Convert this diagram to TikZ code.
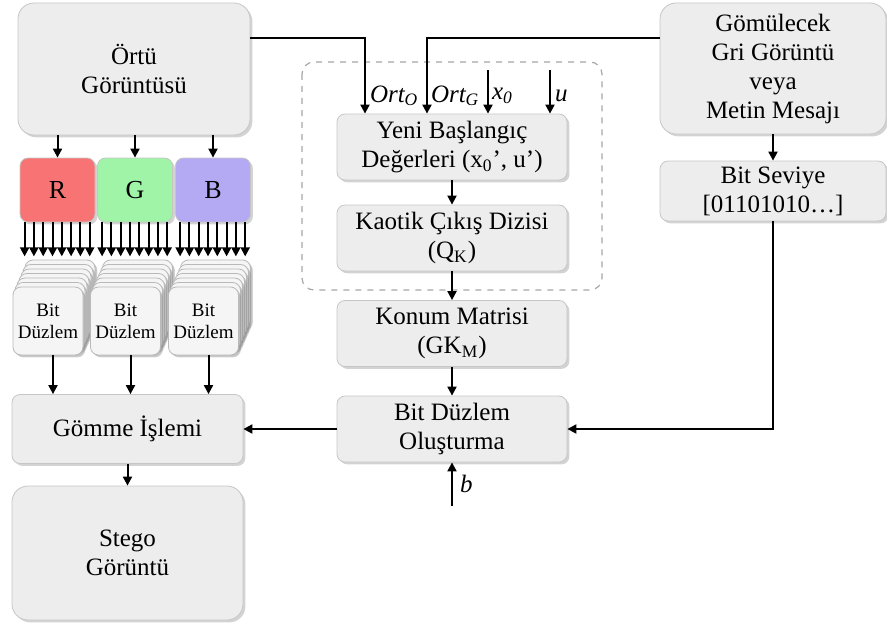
\documentclass[tikz,border=0pt]{standalone}
\usepackage{fontspec}
\setmainfont{Liberation Serif}
\usetikzlibrary{arrows.meta}
\usetikzlibrary{shadows}
\definecolor{rchan}{RGB}{248,116,116}
\definecolor{gchan}{RGB}{160,244,168}
\definecolor{bchan}{RGB}{180,170,244}
\tikzset{
  box/.style={draw=gray!45,line width=0.4pt,fill=gray!14,rounded corners=4pt,align=center,inner sep=0pt,
    font=\fontsize{12.5}{14.5}\selectfont,drop shadow={opacity=0.35,shadow xshift=1.2pt,shadow yshift=-1.2pt}},
  bigbox/.style={box,rounded corners=8pt},
  midbox/.style={box,minimum width=115pt,minimum height=33pt},
  chanbox/.style={box,minimum width=37.5pt,minimum height=32pt,font=\fontsize{13}{15}\selectfont},
  plane/.style={box,fill=gray!8,draw=gray!55,minimum width=35pt,minimum height=34pt,
    font=\fontsize{9.5}{11}\selectfont,drop shadow={opacity=0.2,shadow xshift=0.8pt,shadow yshift=-0.8pt}},
  lbl/.style={inner sep=0pt,anchor=west,font=\fontsize{12.5}{14}\selectfont\itshape}
}
\begin{document}
\begin{tikzpicture}[x=0.5pt,y=-0.5pt,line width=1pt,>={Triangle[length=4.5pt,width=4.5pt]}]
\useasboundingbox (0,0) rectangle (887,626);
% left column
\node[bigbox,minimum width=116pt,minimum height=66pt] (cover) at (134,69) {Örtü\\Görüntüsü};
\node[box,minimum width=115.5pt,minimum height=34.5pt] (embed) at (127.5,429) {Gömme İşlemi};
\node[bigbox,minimum width=115.5pt,minimum height=67pt] (stego) at (127.5,553) {Stego\\Görüntü};
\foreach \ch/\col/\x in {R/rchan/57.5,G/gchan/135,B/bchan/213}{
  \node[chanbox,fill=\col] (\ch) at (\x,190) {\ch};
  \foreach \k in {6,...,1}
    \node[plane,xshift=\k pt,yshift={2.25pt*\k}] at (\x-9.5,321) {};
  \node[plane] (bp\ch) at (\x-9.5,321) {Bit\\Düzlem};
  \draw[->] (\ch.north |- cover.south) -- (\ch.north);
  \foreach \i in {0,...,7}
    \draw[->] ([xshift={2.5pt+4.65pt*\i}]\ch.south west) -- ++(0,34);
  \draw[->] ([xshift=2.5pt]bp\ch.south) -- ([xshift=2.5pt]bp\ch.south |- embed.north);
}
\draw[->] (embed) -- (stego);
% middle column
\draw[gray!70,dashed,line width=0.6pt,rounded corners=6pt] (302,62) rectangle (602,290);
\node[midbox] (init) at (452,147) {Yeni Başlangıç\\Değerleri (x\textsubscript{0}’, u’)};
\node[midbox] (chaos) at (452,238) {Kaotik Çıkış Dizisi\\(Q\textsubscript{K})};
\node[midbox] (pos) at (452,333.5) {Konum Matrisi\\(GK\textsubscript{M})};
\node[midbox] (bdo) at (452,429) {Bit Düzlem\\Oluşturma};
\draw[->] (init) -- (chaos);
\draw[->] (chaos) -- (pos);
\draw[->] (pos) -- (bdo);
\draw[->] (bdo) -- (embed);
% right column
\node[bigbox,minimum width=113pt,minimum height=65.5pt] (msg) at (773,68.5) {Gömülecek\\Gri Görüntü\\veya\\Metin Mesajı};
\node[box,minimum width=113pt,minimum height=30pt] (level) at (773,191) {Bit Seviye\\{[}01101010…{]}};
\draw[->] (msg) -- (level);
\draw[->] (level.south) |- (bdo.east);
% inputs
\draw[->] ([yshift=15.5pt]cover.east) -| ([xshift=-43.5pt]init.north);
\draw[->] ([yshift=15.25pt]msg.west) -| ([xshift=-12.5pt]init.north);
\coordinate (x0in) at (488,70);
\coordinate (uin) at (550,70);
\coordinate (bin) at (452,506);
\draw[->] (x0in) -- (x0in |- init.north);
\draw[->] (uin) -- (uin |- init.north);
\draw[->] (bin) -- (bdo);
\node[lbl] (lO) at (369,96) {Ort\textsubscript{O}};
\node[lbl] (lG) at (430,96) {Ort\textsubscript{G}};
\node[lbl] (lx) at (491,96) {x\textsubscript{0}};
\node[lbl] (lu) at (554,96) {u};
\node[lbl] (lb) at (459,484) {b};
\end{tikzpicture}
\end{document}
